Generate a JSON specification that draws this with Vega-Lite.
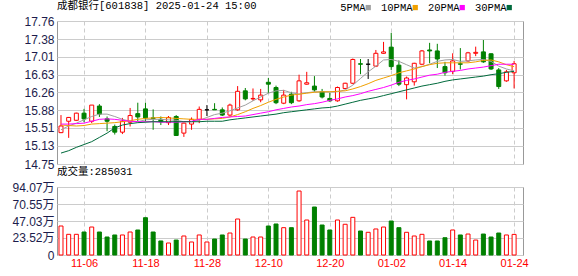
{
  "$schema": "https://vega.github.io/schema/vega-lite/v6.json",
  "padding": {"left": 11, "top": 0, "right": 2, "bottom": 2},
  "background": "white",
  "spacing": 23,
  "bounds": "flush",
  "config": {
    "view": {"stroke": "#999999", "strokeWidth": 1},
    "title": {"anchor": "start", "frame": "group", "fontSize": 10.5, "fontWeight": "normal", "font": "'Liberation Mono', 'Noto Sans CJK SC'", "color": "#000000", "offset": 4},
    "axis": {"labelFont": "'Liberation Sans', 'Noto Sans CJK SC'", "labelFontSize": 12, "labelColor": "#1c1c4c", "ticks": false, "domain": false, "gridColor": "#cccccc", "title": null, "labelPadding": 3}
  },
  "datasets": {
    "k": [
      {"date": "2024-11-01", "open": 15.41, "high": 15.78, "low": 15.40, "close": 15.55, "volume": 401000, "5PMA": 15.47, "10PMA": 15.57, "20PMA": 15.59, "30PMA": 14.98},
      {"date": "2024-11-04", "open": 15.65, "high": 15.74, "low": 15.30, "close": 15.73, "volume": 286000, "5PMA": 15.55, "10PMA": 15.56, "20PMA": 15.59, "30PMA": 15.03},
      {"date": "2024-11-05", "open": 15.67, "high": 15.83, "low": 15.66, "close": 15.82, "volume": 286000, "5PMA": 15.61, "10PMA": 15.55, "20PMA": 15.60, "30PMA": 15.10},
      {"date": "2024-11-06", "open": 15.82, "high": 15.91, "low": 15.63, "close": 15.70, "volume": 318000, "5PMA": 15.68, "10PMA": 15.56, "20PMA": 15.61, "30PMA": 15.16},
      {"date": "2024-11-07", "open": 15.65, "high": 15.99, "low": 15.61, "close": 15.99, "volume": 387000, "5PMA": 15.75, "10PMA": 15.59, "20PMA": 15.65, "30PMA": 15.22},
      {"date": "2024-11-08", "open": 15.97, "high": 16.01, "low": 15.74, "close": 15.80, "volume": 318000, "5PMA": 15.80, "10PMA": 15.60, "20PMA": 15.69, "30PMA": 15.31},
      {"date": "2024-11-11", "open": 15.70, "high": 15.75, "low": 15.44, "close": 15.65, "volume": 249000, "5PMA": 15.80, "10PMA": 15.61, "20PMA": 15.70, "30PMA": 15.40},
      {"date": "2024-11-12", "open": 15.54, "high": 15.58, "low": 15.37, "close": 15.42, "volume": 277000, "5PMA": 15.75, "10PMA": 15.62, "20PMA": 15.69, "30PMA": 15.51},
      {"date": "2024-11-13", "open": 15.42, "high": 15.72, "low": 15.38, "close": 15.65, "volume": 277000, "5PMA": 15.69, "10PMA": 15.64, "20PMA": 15.67, "30PMA": 15.57},
      {"date": "2024-11-14", "open": 15.63, "high": 15.93, "low": 15.54, "close": 15.77, "volume": 318000, "5PMA": 15.65, "10PMA": 15.66, "20PMA": 15.65, "30PMA": 15.60},
      {"date": "2024-11-15", "open": 15.81, "high": 16.04, "low": 15.65, "close": 15.74, "volume": 346000, "5PMA": 15.64, "10PMA": 15.69, "20PMA": 15.64, "30PMA": 15.62},
      {"date": "2024-11-18", "open": 15.91, "high": 16.04, "low": 15.65, "close": 15.72, "volume": 516000, "5PMA": 15.68, "10PMA": 15.71, "20PMA": 15.64, "30PMA": 15.63},
      {"date": "2024-11-19", "open": 15.72, "high": 15.90, "low": 15.47, "close": 15.71, "volume": 318000, "5PMA": 15.69, "10PMA": 15.72, "20PMA": 15.64, "30PMA": 15.64},
      {"date": "2024-11-20", "open": 15.69, "high": 15.75, "low": 15.57, "close": 15.64, "volume": 194000, "5PMA": 15.69, "10PMA": 15.73, "20PMA": 15.63, "30PMA": 15.64},
      {"date": "2024-11-21", "open": 15.62, "high": 15.76, "low": 15.57, "close": 15.73, "volume": 166000, "5PMA": 15.68, "10PMA": 15.72, "20PMA": 15.63, "30PMA": 15.64},
      {"date": "2024-11-22", "open": 15.75, "high": 15.78, "low": 15.34, "close": 15.35, "volume": 207000, "5PMA": 15.67, "10PMA": 15.71, "20PMA": 15.63, "30PMA": 15.64},
      {"date": "2024-11-25", "open": 15.40, "high": 15.62, "low": 15.32, "close": 15.61, "volume": 263000, "5PMA": 15.64, "10PMA": 15.70, "20PMA": 15.64, "30PMA": 15.64},
      {"date": "2024-11-26", "open": 15.59, "high": 15.73, "low": 15.47, "close": 15.69, "volume": 180000, "5PMA": 15.64, "10PMA": 15.69, "20PMA": 15.65, "30PMA": 15.64},
      {"date": "2024-11-27", "open": 15.69, "high": 15.96, "low": 15.61, "close": 15.90, "volume": 277000, "5PMA": 15.67, "10PMA": 15.69, "20PMA": 15.69, "30PMA": 15.64},
      {"date": "2024-11-28", "open": 15.89, "high": 15.99, "low": 15.76, "close": 15.89, "volume": 180000, "5PMA": 15.73, "10PMA": 15.69, "20PMA": 15.69, "30PMA": 15.65},
      {"date": "2024-11-29", "open": 15.90, "high": 16.03, "low": 15.89, "close": 15.89, "volume": 221000, "5PMA": 15.79, "10PMA": 15.70, "20PMA": 15.71, "30PMA": 15.65},
      {"date": "2024-12-02", "open": 15.89, "high": 15.94, "low": 15.76, "close": 15.78, "volume": 277000, "5PMA": 15.82, "10PMA": 15.71, "20PMA": 15.73, "30PMA": 15.65},
      {"date": "2024-12-03", "open": 15.78, "high": 16.02, "low": 15.75, "close": 15.99, "volume": 304000, "5PMA": 15.87, "10PMA": 15.74, "20PMA": 15.74, "30PMA": 15.68},
      {"date": "2024-12-04", "open": 15.89, "high": 16.39, "low": 15.87, "close": 16.28, "volume": 498000, "5PMA": 15.93, "10PMA": 15.79, "20PMA": 15.75, "30PMA": 15.70},
      {"date": "2024-12-05", "open": 16.29, "high": 16.35, "low": 16.09, "close": 16.12, "volume": 221000, "5PMA": 15.99, "10PMA": 15.85, "20PMA": 15.76, "30PMA": 15.72},
      {"date": "2024-12-06", "open": 16.12, "high": 16.34, "low": 16.08, "close": 16.13, "volume": 249000, "5PMA": 16.08, "10PMA": 15.92, "20PMA": 15.79, "30PMA": 15.74},
      {"date": "2024-12-09", "open": 16.10, "high": 16.33, "low": 16.05, "close": 16.20, "volume": 249000, "5PMA": 16.16, "10PMA": 15.98, "20PMA": 15.82, "30PMA": 15.76},
      {"date": "2024-12-10", "open": 16.47, "high": 16.56, "low": 16.24, "close": 16.43, "volume": 401000, "5PMA": 16.24, "10PMA": 16.05, "20PMA": 15.85, "30PMA": 15.78},
      {"date": "2024-12-11", "open": 16.36, "high": 16.40, "low": 16.01, "close": 16.04, "volume": 429000, "5PMA": 16.29, "10PMA": 16.11, "20PMA": 15.89, "30PMA": 15.80},
      {"date": "2024-12-12", "open": 16.03, "high": 16.31, "low": 16.01, "close": 16.20, "volume": 378000, "5PMA": 16.30, "10PMA": 16.16, "20PMA": 15.92, "30PMA": 15.83},
      {"date": "2024-12-13", "open": 16.22, "high": 16.27, "low": 16.01, "close": 16.04, "volume": 378000, "5PMA": 16.25, "10PMA": 16.20, "20PMA": 15.95, "30PMA": 15.85},
      {"date": "2024-12-16", "open": 16.08, "high": 16.63, "low": 16.06, "close": 16.50, "volume": 885000, "5PMA": 16.22, "10PMA": 16.22, "20PMA": 15.97, "30PMA": 15.87},
      {"date": "2024-12-17", "open": 16.43, "high": 16.69, "low": 16.42, "close": 16.46, "volume": 484000, "5PMA": 16.25, "10PMA": 16.24, "20PMA": 16.00, "30PMA": 15.89},
      {"date": "2024-12-18", "open": 16.39, "high": 16.60, "low": 16.27, "close": 16.31, "volume": 664000, "5PMA": 16.27, "10PMA": 16.26, "20PMA": 16.02, "30PMA": 15.91},
      {"date": "2024-12-19", "open": 16.27, "high": 16.33, "low": 16.13, "close": 16.16, "volume": 415000, "5PMA": 16.27, "10PMA": 16.27, "20PMA": 16.05, "30PMA": 15.93},
      {"date": "2024-12-20", "open": 16.13, "high": 16.25, "low": 16.06, "close": 16.08, "volume": 346000, "5PMA": 16.27, "10PMA": 16.27, "20PMA": 16.09, "30PMA": 15.94},
      {"date": "2024-12-23", "open": 16.08, "high": 16.38, "low": 16.06, "close": 16.36, "volume": 484000, "5PMA": 16.27, "10PMA": 16.28, "20PMA": 16.12, "30PMA": 15.97},
      {"date": "2024-12-24", "open": 16.34, "high": 16.46, "low": 16.33, "close": 16.45, "volume": 425000, "5PMA": 16.31, "10PMA": 16.29, "20PMA": 16.16, "30PMA": 16.01},
      {"date": "2024-12-25", "open": 16.45, "high": 16.97, "low": 16.43, "close": 16.95, "volume": 521000, "5PMA": 16.41, "10PMA": 16.33, "20PMA": 16.19, "30PMA": 16.05},
      {"date": "2024-12-26", "open": 16.86, "high": 16.96, "low": 16.64, "close": 16.85, "volume": 332000, "5PMA": 16.55, "10PMA": 16.38, "20PMA": 16.23, "30PMA": 16.09},
      {"date": "2024-12-27", "open": 16.85, "high": 16.96, "low": 16.54, "close": 16.85, "volume": 314000, "5PMA": 16.69, "10PMA": 16.44, "20PMA": 16.28, "30PMA": 16.12},
      {"date": "2024-12-30", "open": 16.81, "high": 17.15, "low": 16.79, "close": 17.08, "volume": 360000, "5PMA": 16.81, "10PMA": 16.51, "20PMA": 16.32, "30PMA": 16.15},
      {"date": "2024-12-31", "open": 17.08, "high": 17.32, "low": 17.07, "close": 17.11, "volume": 387000, "5PMA": 16.94, "10PMA": 16.56, "20PMA": 16.36, "30PMA": 16.19},
      {"date": "2025-01-02", "open": 17.21, "high": 17.51, "low": 16.73, "close": 16.80, "volume": 470000, "5PMA": 16.95, "10PMA": 16.61, "20PMA": 16.41, "30PMA": 16.23},
      {"date": "2025-01-03", "open": 16.83, "high": 16.93, "low": 16.39, "close": 16.43, "volume": 378000, "5PMA": 16.91, "10PMA": 16.67, "20PMA": 16.47, "30PMA": 16.27},
      {"date": "2025-01-06", "open": 16.42, "high": 16.59, "low": 16.11, "close": 16.56, "volume": 314000, "5PMA": 16.84, "10PMA": 16.71, "20PMA": 16.51, "30PMA": 16.31},
      {"date": "2025-01-07", "open": 16.48, "high": 16.88, "low": 16.40, "close": 16.87, "volume": 263000, "5PMA": 16.77, "10PMA": 16.75, "20PMA": 16.54, "30PMA": 16.35},
      {"date": "2025-01-08", "open": 16.85, "high": 17.15, "low": 16.83, "close": 17.13, "volume": 286000, "5PMA": 16.80, "10PMA": 16.80, "20PMA": 16.58, "30PMA": 16.39},
      {"date": "2025-01-09", "open": 17.15, "high": 17.30, "low": 16.87, "close": 17.13, "volume": 194000, "5PMA": 16.85, "10PMA": 16.84, "20PMA": 16.62, "30PMA": 16.42},
      {"date": "2025-01-10", "open": 17.13, "high": 17.28, "low": 16.77, "close": 16.96, "volume": 194000, "5PMA": 16.91, "10PMA": 16.87, "20PMA": 16.64, "30PMA": 16.45},
      {"date": "2025-01-13", "open": 16.80, "high": 16.90, "low": 16.61, "close": 16.67, "volume": 239000, "5PMA": 16.94, "10PMA": 16.88, "20PMA": 16.68, "30PMA": 16.49},
      {"date": "2025-01-14", "open": 16.70, "high": 17.08, "low": 16.64, "close": 16.92, "volume": 346000, "5PMA": 16.95, "10PMA": 16.88, "20PMA": 16.70, "30PMA": 16.52},
      {"date": "2025-01-15", "open": 16.86, "high": 17.19, "low": 16.74, "close": 16.85, "volume": 277000, "5PMA": 16.91, "10PMA": 16.88, "20PMA": 16.72, "30PMA": 16.54},
      {"date": "2025-01-16", "open": 16.92, "high": 17.11, "low": 16.90, "close": 17.09, "volume": 290000, "5PMA": 16.92, "10PMA": 16.88, "20PMA": 16.75, "30PMA": 16.56},
      {"date": "2025-01-17", "open": 17.08, "high": 17.22, "low": 17.02, "close": 17.10, "volume": 207000, "5PMA": 16.94, "10PMA": 16.90, "20PMA": 16.77, "30PMA": 16.58},
      {"date": "2025-01-20", "open": 17.11, "high": 17.36, "low": 16.88, "close": 16.90, "volume": 290000, "5PMA": 16.95, "10PMA": 16.93, "20PMA": 16.79, "30PMA": 16.60},
      {"date": "2025-01-21", "open": 17.07, "high": 17.08, "low": 16.73, "close": 16.75, "volume": 249000, "5PMA": 16.91, "10PMA": 16.94, "20PMA": 16.82, "30PMA": 16.63},
      {"date": "2025-01-22", "open": 16.73, "high": 16.77, "low": 16.33, "close": 16.38, "volume": 304000, "5PMA": 16.81, "10PMA": 16.90, "20PMA": 16.85, "30PMA": 16.65},
      {"date": "2025-01-23", "open": 16.50, "high": 16.73, "low": 16.48, "close": 16.69, "volume": 277000, "5PMA": 16.75, "10PMA": 16.84, "20PMA": 16.85, "30PMA": 16.68},
      {"date": "2025-01-24", "open": 16.67, "high": 16.92, "low": 16.34, "close": 16.86, "volume": 285031, "5PMA": 16.71, "10PMA": 16.80, "20PMA": 16.85, "30PMA": 16.70}
    ]
  },
  "vconcat": [
    {
      "title": "成都银行[601838] 2025-01-24 15:00",
      "width": 466,
      "height": 143,
      "data": {"name": "k"},
      "encoding": {
        "x": {
          "field": "date", "type": "ordinal",
          "scale": {"type": "point", "padding": 0.84, "align": 0.31},
          "axis": {"values": ["2024-11-06", "2024-11-18", "2024-11-28", "2024-12-10", "2024-12-20", "2025-01-02", "2025-01-14", "2025-01-24"], "labels": false, "grid": true, "gridDash": [4, 3]}
        }
      },
      "layer": [
        {
          "mark": {"type": "rule", "strokeWidth": 1},
          "encoding": {
            "y": {"field": "low", "type": "quantitative", "scale": {"domain": [14.75, 17.76], "nice": false, "zero": false},
                  "axis": {"values": [14.75, 15.13, 15.51, 15.88, 16.26, 16.63, 17.01, 17.38, 17.76], "format": ".2f", "grid": true, "labelOverlap": false}},
            "y2": {"field": "high"},
            "stroke": {"condition": [{"test": "datum.close > datum.open", "value": "#ff0000"}, {"test": "datum.close == datum.open", "value": "#000000"}], "value": "#008000"}
          }
        },
        {
          "mark": {"type": "bar", "size": 4, "strokeWidth": 1},
          "encoding": {
            "y": {"field": "open", "type": "quantitative", "scale": {"domain": [14.75, 17.76], "nice": false, "zero": false},
                  "axis": {"values": [14.75, 15.13, 15.51, 15.88, 16.26, 16.63, 17.01, 17.38, 17.76], "format": ".2f", "grid": true, "labelOverlap": false}},
            "y2": {"field": "close"},
            "fill": {"condition": {"test": "datum.close >= datum.open", "value": "#ffffff"}, "value": "#008000"},
            "stroke": {"condition": [{"test": "datum.close > datum.open", "value": "#ff0000"}, {"test": "datum.close == datum.open", "value": "#000000"}], "value": "#008000"}
          }
        },
        {
          "transform": [{"fold": ["5PMA", "10PMA", "20PMA", "30PMA"], "as": ["ma", "v"]}],
          "mark": {"type": "line", "strokeWidth": 1},
          "encoding": {
            "y": {"field": "v", "type": "quantitative", "scale": {"domain": [14.75, 17.76], "nice": false, "zero": false},
                  "axis": {"values": [14.75, 15.13, 15.51, 15.88, 16.26, 16.63, 17.01, 17.38, 17.76], "format": ".2f", "grid": true, "labelOverlap": false}},
            "color": {
              "field": "ma", "type": "nominal",
              "scale": {"domain": ["5PMA", "10PMA", "20PMA", "30PMA"], "range": ["#a0a0a0", "#f0a000", "#ff00ff", "#006a3c"]},
              "legend": {"orient": "none", "legendX": 306, "legendY": -19, "direction": "horizontal", "title": null, "padding": 0,
                         "symbolType": "square", "symbolSize": 5, "symbolStrokeWidth": 3, "labelAlign": "right", "labelOffset": -8,
                         "columnPadding": 4, "labelFont": "'Liberation Mono', 'Noto Sans CJK SC'", "labelFontSize": 10.5, "labelColor": "#000000"}
            }
          }
        }
      ]
    },
    {
      "title": "成交量:285031",
      "width": 466,
      "height": 68,
      "data": {"name": "k"},
      "mark": {"type": "bar", "size": 4, "strokeWidth": 1},
      "encoding": {
        "x": {
          "field": "date", "type": "ordinal",
          "scale": {"type": "point", "padding": 0.84, "align": 0.31},
          "axis": {"values": ["2024-11-06", "2024-11-18", "2024-11-28", "2024-12-10", "2024-12-20", "2025-01-02", "2025-01-14", "2025-01-24"],
                   "labelExpr": "substring(datum.label, 5)", "labelColor": "#ff0000", "labelFontSize": 11, "labelAngle": 0, "labelPadding": 2,
                   "grid": true, "gridDash": [4, 3]}
        },
        "y": {"field": "volume", "type": "quantitative", "scale": {"domain": [0, 940700], "nice": false},
              "axis": {"values": [0, 235200, 470300, 705500, 940700], "labelExpr": "datum.value == 0 ? '0' : format(datum.value / 10000, '.2f') + '万'", "grid": true, "labelOverlap": false}},
        "fill": {"condition": {"test": "datum.close >= datum.open", "value": "#ffffff"}, "value": "#008000"},
        "stroke": {"condition": {"test": "datum.close >= datum.open", "value": "#ff0000"}, "value": "#008000"}
      }
    }
  ]
}
